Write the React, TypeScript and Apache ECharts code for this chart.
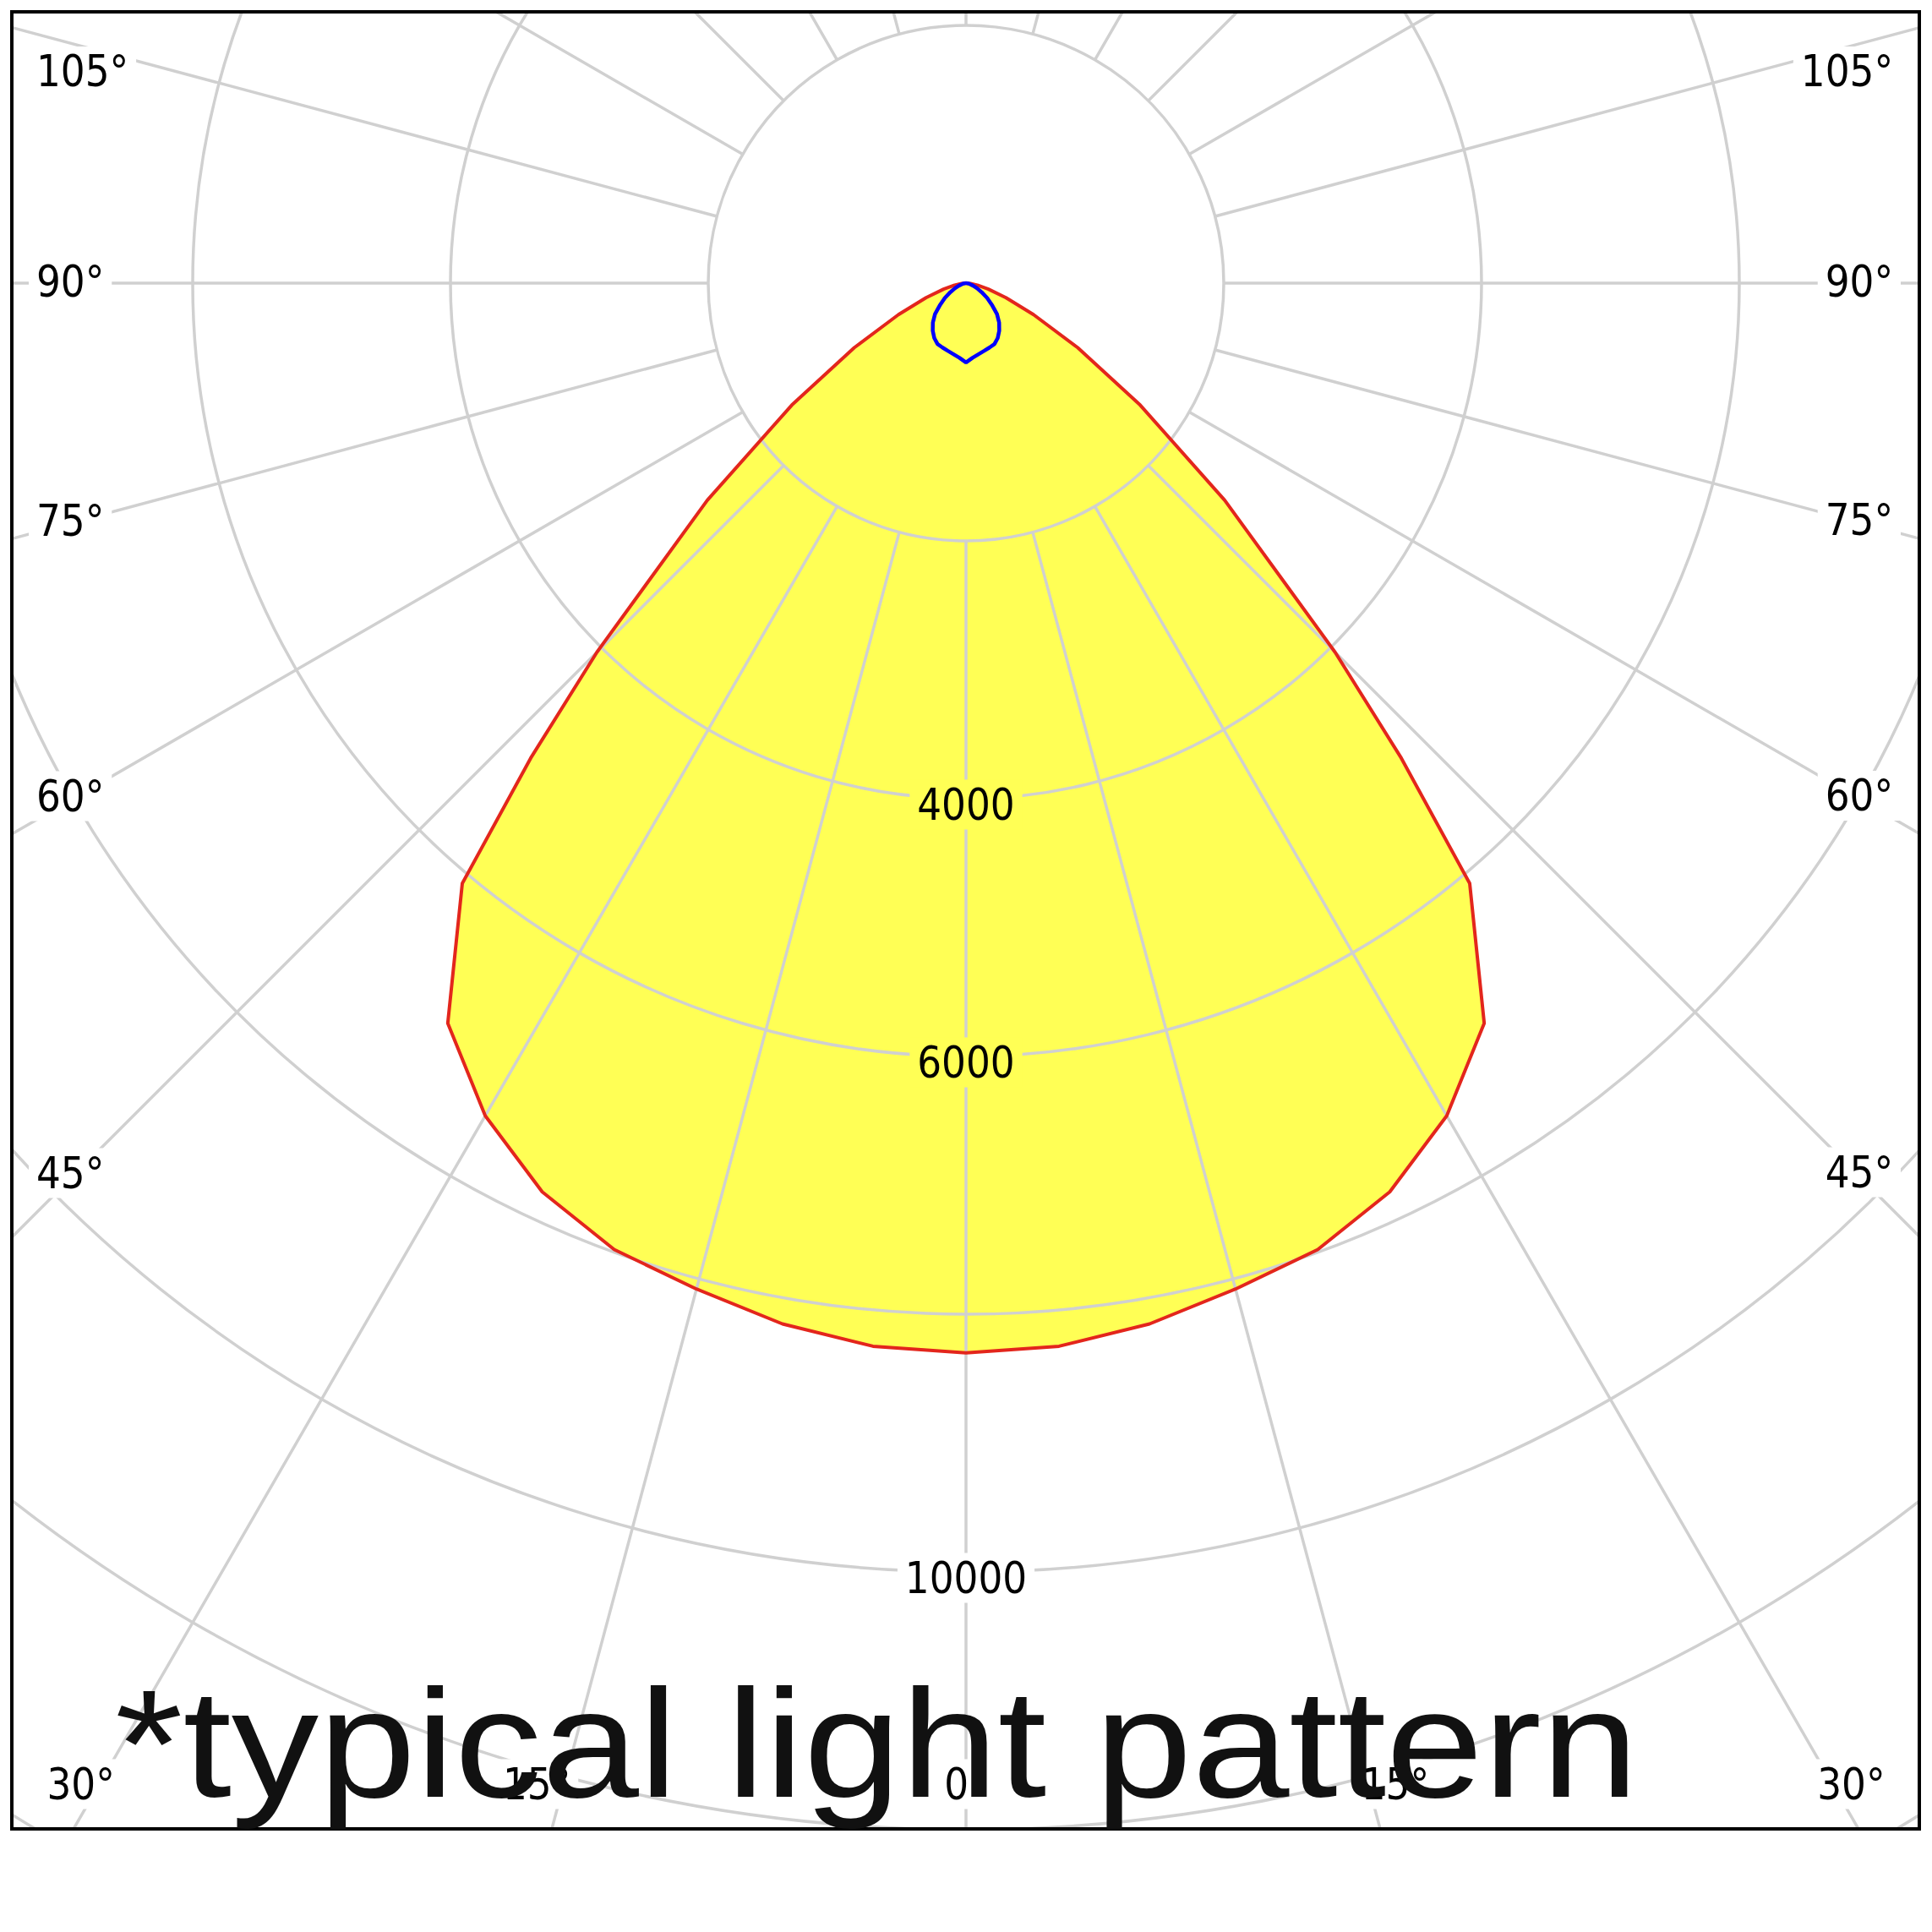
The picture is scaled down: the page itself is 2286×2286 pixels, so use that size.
import React, { useEffect, useRef } from 'react';
import * as echarts from 'echarts';

// ---- data (candela values, symmetric distribution) ----
const RED_ANGLES = [0, 5, 10, 15, 20, 25, 30, 35, 40, 42.5, 45, 50, 55, 60, 65, 70, 75, 80, 85, 90];
const RED_VALUES = [8300, 8280, 8200, 8080, 7980, 7780, 7460, 7010, 6080, 5000, 4050, 2620, 1650, 1000, 578, 330, 180, 90, 35, 0];
const BLUE_ANGLES = [0, 5, 10, 15, 20, 25, 30, 35, 40, 45, 50, 55, 60, 65, 70, 75, 80, 85, 90];
const BLUE_VALUES = [616, 582, 560, 544, 532, 522, 492, 450, 400, 340, 262, 200, 140, 95, 60, 35, 18, 6, 0];
const RING_LABELS = [4000, 6000, 10000];
const SIDE_ANGLE_LABELS = [105, 90, 75, 60, 45];
const BOTTOM_ANGLE_LABELS = [30, 15, 0];
const NOTE = '*typical light pattern';

// ---- layout ----
const W = 2261;
const H = 2154;
const CX = 1131;
const CY = 323;
const R_OUTER = 2440;
const R_INNER = 305;
const R_MAX = 16000;
const R_STEP = 2000;

const GRID = { color: '#d0d0d0', width: 3.5 };
const LABEL_FONT = '51px "DejaVu Sans"';
const LABEL_SCALE = 0.89;

function mirrored(angles: number[], vals: number[]) {
  const pts: number[][] = [];
  for (let i = angles.length - 1; i >= 0; i--) pts.push([vals[i], angles[i]]);
  for (let i = 1; i < angles.length; i++) pts.push([vals[i], -angles[i]]);
  return pts;
}

export default function App() {
  const ref = useRef<HTMLDivElement>(null);

  useEffect(() => {
    const chart = echarts.init(ref.current as HTMLDivElement, null, { renderer: 'svg' });
    const redPts = mirrored(RED_ANGLES, RED_VALUES);
    const bluePts = mirrored(BLUE_ANGLES, BLUE_VALUES);

    chart.setOption({
      animation: false,
      backgroundColor: '#ffffff',
      polar: [
        { center: [CX, CY], radius: [0, R_OUTER] },
        { center: [CX, CY], radius: [R_INNER, R_OUTER] },
      ],
      angleAxis: [
        { polarIndex: 0, type: 'value', min: -180, max: 180, startAngle: 90, clockwise: true, show: false },
        {
          polarIndex: 1, type: 'value', min: -180, max: 180, interval: 15, startAngle: 90, clockwise: true, z: 3,
          axisLine: { show: false }, axisTick: { show: false }, axisLabel: { show: false },
          splitLine: { show: true, lineStyle: GRID },
        },
      ],
      radiusAxis: [
        {
          polarIndex: 0, type: 'value', min: 0, max: R_MAX, interval: R_STEP, z: 3,
          axisLine: { show: false }, axisTick: { show: false }, axisLabel: { show: false },
          splitLine: { show: true, lineStyle: GRID },
        },
        { polarIndex: 1, type: 'value', min: 0, max: 1, show: false },
      ],
      series: [
        {
          type: 'line', coordinateSystem: 'polar', polarIndex: 0, data: redPts, symbol: 'none', silent: true,
          lineStyle: { width: 0, opacity: 0 }, areaStyle: { color: '#ffff55', opacity: 1 }, z: 1,
        },
        {
          type: 'line', coordinateSystem: 'polar', polarIndex: 0, data: redPts, symbol: 'none', silent: true,
          lineStyle: { color: '#e3261c', width: 4 }, z: 5,
        },
        {
          type: 'line', coordinateSystem: 'polar', polarIndex: 0, data: bluePts, symbol: 'none', silent: true,
          lineStyle: { color: '#0000ff', width: 4.5 }, z: 6,
        },
      ],
    });

    const center = chart.convertToPixel({ seriesIndex: 0 }, [0, 0]) as number[];
    const dirOf = (a: number) => {
      const p = chart.convertToPixel({ seriesIndex: 0 }, [10000, a]) as number[];
      return [p[0] - center[0], p[1] - center[1]];
    };

    const graphics: any[] = [];
    const label = (text: string, x: number, y: number, align: string, bg: string) => {
      graphics.push({
        type: 'text', x, y, scaleX: LABEL_SCALE, z: 50, silent: true,
        style: {
          text, font: LABEL_FONT, fill: '#000000', align, verticalAlign: 'middle',
          backgroundColor: bg, padding: [4, 10],
        },
      });
    };

    // ring value labels along the 0° line
    RING_LABELS.forEach((v) => {
      const p = chart.convertToPixel({ seriesIndex: 0 }, [v, 0]) as number[];
      const bg = v < RED_VALUES[0] ? '#ffff55' : '#ffffff';
      label(String(v), p[0], p[1] + 7, 'center', bg);
    });

    // side angle labels
    const SIDE_X = 76;
    const MIN_Y = 72.5;
    SIDE_ANGLE_LABELS.forEach((a) => {
      [1, -1].forEach((side) => {
        const d = dirOf(side * a);
        const xt = side === 1 ? SIDE_X : W - SIDE_X;
        const t = (xt - center[0]) / d[0];
        const y = Math.max(center[1] + t * d[1] - 2, MIN_Y);
        label(a + '°', side === 1 ? 22 : 2237, y, side === 1 ? 'left' : 'right', '#ffffff');
      });
    });

    // bottom angle labels
    const BOTTOM_Y = 2099;
    const NUDGE: Record<number, number> = { 30: 22, 15: 32, 0: 0 };
    BOTTOM_ANGLE_LABELS.forEach((a) => {
      const sides = a === 0 ? [1] : [1, -1];
      sides.forEach((side) => {
        const d = dirOf(side * a);
        const x = center[0] + ((BOTTOM_Y - center[1]) * d[0]) / d[1] - side * NUDGE[a];
        label(a + '°', x, BOTTOM_Y, 'center', '#ffffff');
      });
    });

    // frame
    graphics.push({
      type: 'rect', z: 60, silent: true,
      shape: { x: 2, y: 2, width: W - 4, height: H - 4 },
      style: { fill: 'none', stroke: '#000000', lineWidth: 4 },
    });

    // note
    graphics.push({
      type: 'text', x: 124, y: 2051, scaleX: 1.135, z: 70, silent: true,
      style: { text: NOTE, font: '182px "Liberation Sans"', fill: '#111111', align: 'left', verticalAlign: 'middle' },
    });

    chart.setOption({ graphic: { elements: graphics } });

    return () => chart.dispose();
  }, []);

  return (
    <div
      ref={ref}
      style={{ position: 'absolute', left: 12, top: 12, width: W, height: H, background: '#ffffff' }}
    />
  );
}
